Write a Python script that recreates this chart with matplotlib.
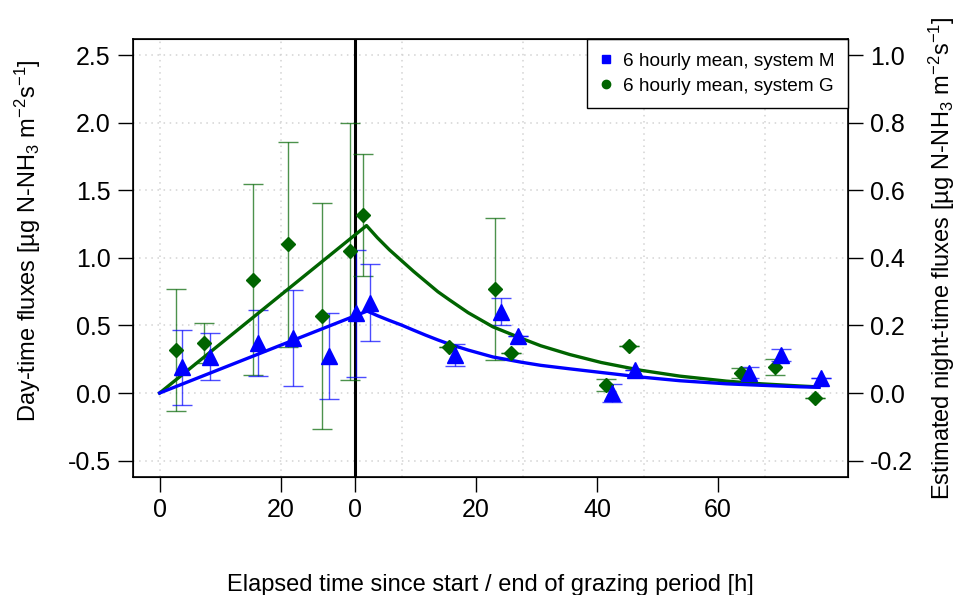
import matplotlib
matplotlib.use("Agg")
import matplotlib.pyplot as plt

plt.rcParams['font.family'] = ['Liberation Sans', 'DejaVu Sans']
plt.rcParams['mathtext.default'] = 'regular'

# hours on a joined axis: grazing phase starts at 0, ends at GRAZING_END
GRAZING_END = 32.3

# system G (green diamonds), 6 hourly means with error bars
g_time = [2.75, 7.4, 15.4, 21.2, 26.8, 31.4, 33.6, 47.9, 55.4, 58.1, 73.8, 77.6, 96.1, 101.8, 108.4]
g_flux = [0.32, 0.37, 0.84, 1.10, 0.57, 1.05, 1.32, 0.34, 0.77, 0.30, 0.06, 0.35, 0.15, 0.19, -0.04]
g_err = [0.45, 0.15, 0.71, 0.76, 0.84, 0.95, 0.45, 0.0, 0.525, 0.0, 0.044, 0.0, 0.037, 0.06, 0.0]

# system M (blue triangles)
m_time = [3.75, 8.4, 16.25, 22.0, 28.0, 32.4, 34.7, 48.9, 56.5, 59.2, 74.8, 78.6, 97.4, 102.8, 109.4]
m_flux = [0.19, 0.27, 0.37, 0.41, 0.275, 0.59, 0.67, 0.28, 0.60, 0.42, 0.0, 0.17, 0.15, 0.28, 0.11]
m_err = [0.28, 0.175, 0.245, 0.355, 0.32, 0.47, 0.283, 0.08, 0.10, 0.0, 0.069, 0.0, 0.04, 0.045, 0.0]

# fitted curves
g_curve_t = [0, 34.2, 36, 38, 40, 42, 44, 46, 47.9, 51, 55.1, 59.8, 63, 67.8, 73, 79.6, 86, 93.7, 99.5, 105.8, 109]
g_curve_y = [0, 1.24, 1.15, 1.06, 0.98, 0.90, 0.825, 0.75, 0.69, 0.595, 0.49, 0.405, 0.35, 0.285, 0.226, 0.168,
             0.125, 0.088, 0.068, 0.052, 0.045]
m_curve_t = [0, 34.3, 36, 38, 40, 42, 44, 46, 47.9, 51, 55.1, 59.8, 63, 67.8, 73, 79.6, 86, 93.7, 99.5, 105.8, 109]
m_curve_y = [0, 0.607, 0.573, 0.537, 0.503, 0.465, 0.428, 0.393, 0.362, 0.318, 0.267, 0.228, 0.205, 0.179,
             0.152, 0.118, 0.091, 0.068, 0.057, 0.046, 0.042]

x_tick_hours = [0, 20, 0, 20, 40, 60]
x_tick_phase = [0, 0, 1, 1, 1, 1]
left_ticks = [-0.5, 0.0, 0.5, 1.0, 1.5, 2.0, 2.5]
right_ticks = [-0.2, 0.0, 0.2, 0.4, 0.6, 0.8, 1.0]
grid_x = [0, 20, 40, 60, 80, 100]

GREEN = '#006400'
BLUE = '#0000ff'

fig = plt.figure(figsize=(9.62, 5.95), dpi=100)
ax = fig.add_axes([0.1383, 0.1988, 0.7432, 0.7352])

ylim = (-0.62, 2.62)
ax.set_xlim(-4.4, 113.8)
ax.set_ylim(*ylim)

for gx in grid_x:
    ax.axvline(gx, color='#d3d3d3', lw=1.1, ls=(0, (1, 3)), zorder=0)
for gy in left_ticks:
    ax.axhline(gy, color='#d3d3d3', lw=1.1, ls=(0, (1, 3)), zorder=0)

ax.axvline(GRAZING_END, color='black', lw=2.2, zorder=1)

ax.errorbar(g_time, g_flux, yerr=g_err, fmt='none', ecolor=GREEN, alpha=0.7,
            elinewidth=1, capsize=7, capthick=1, zorder=2)
ax.errorbar(m_time, m_flux, yerr=m_err, fmt='none', ecolor=BLUE, alpha=0.7,
            elinewidth=1, capsize=7, capthick=1, zorder=2)

ax.plot(g_curve_t, g_curve_y, color=GREEN, lw=2.4, zorder=3)
ax.plot(m_curve_t, m_curve_y, color=BLUE, lw=2.4, zorder=3)

ax.plot(g_time, g_flux, 'D', color=GREEN, ms=7.5, zorder=4)
ax.plot(m_time, m_flux, '^', color=BLUE, ms=12, zorder=4)

# legend uses square / circle symbols like the original
ax.plot([], [], 's', color=BLUE, ms=6, label='6 hourly mean, system M')
ax.plot([], [], 'o', color=GREEN, ms=6, label='6 hourly mean, system G')
leg = ax.legend(loc='upper right', bbox_to_anchor=(1, 1), borderaxespad=0, fancybox=False,
                edgecolor='black', framealpha=1, fontsize=13.7, handlelength=0.6,
                handletextpad=0.6, borderpad=0.7, labelspacing=0.4)
leg.get_frame().set_linewidth(1)

tick_pos = [h + p * GRAZING_END for h, p in zip(x_tick_hours, x_tick_phase)]
ax.set_xticks(tick_pos)
ax.set_xticklabels([str(h) for h in x_tick_hours])
ax.set_yticks(left_ticks)
ax.set_yticklabels(['%.1f' % v for v in left_ticks])
ax.tick_params(axis='both', length=11, width=1, labelsize=18, pad=5)
ax.tick_params(axis='x', pad=4)
for s in ax.spines.values():
    s.set_linewidth(1.2)

ax2 = ax.twinx()
ax2.set_ylim(ylim[0] * 0.4, ylim[1] * 0.4)
ax2.set_yticks(right_ticks)
ax2.set_yticklabels(['%.1f' % v for v in right_ticks])
ax2.tick_params(axis='y', length=11, width=1, labelsize=18, pad=5)

ax.set_xlabel('Elapsed time since start / end of grazing period [h]', fontsize=17, labelpad=38)
ax.set_ylabel('Day-time fluxes [µg N-NH$_3$ m$^{-2}$s$^{-1}$]', fontsize=17)
ax.yaxis.set_label_coords(-0.126, 0.54)
ax2.set_ylabel('Estimated night-time fluxes [µg N-NH$_3$ m$^{-2}$s$^{-1}$]', fontsize=17, labelpad=10)

fig.savefig('out.png', dpi=100)
